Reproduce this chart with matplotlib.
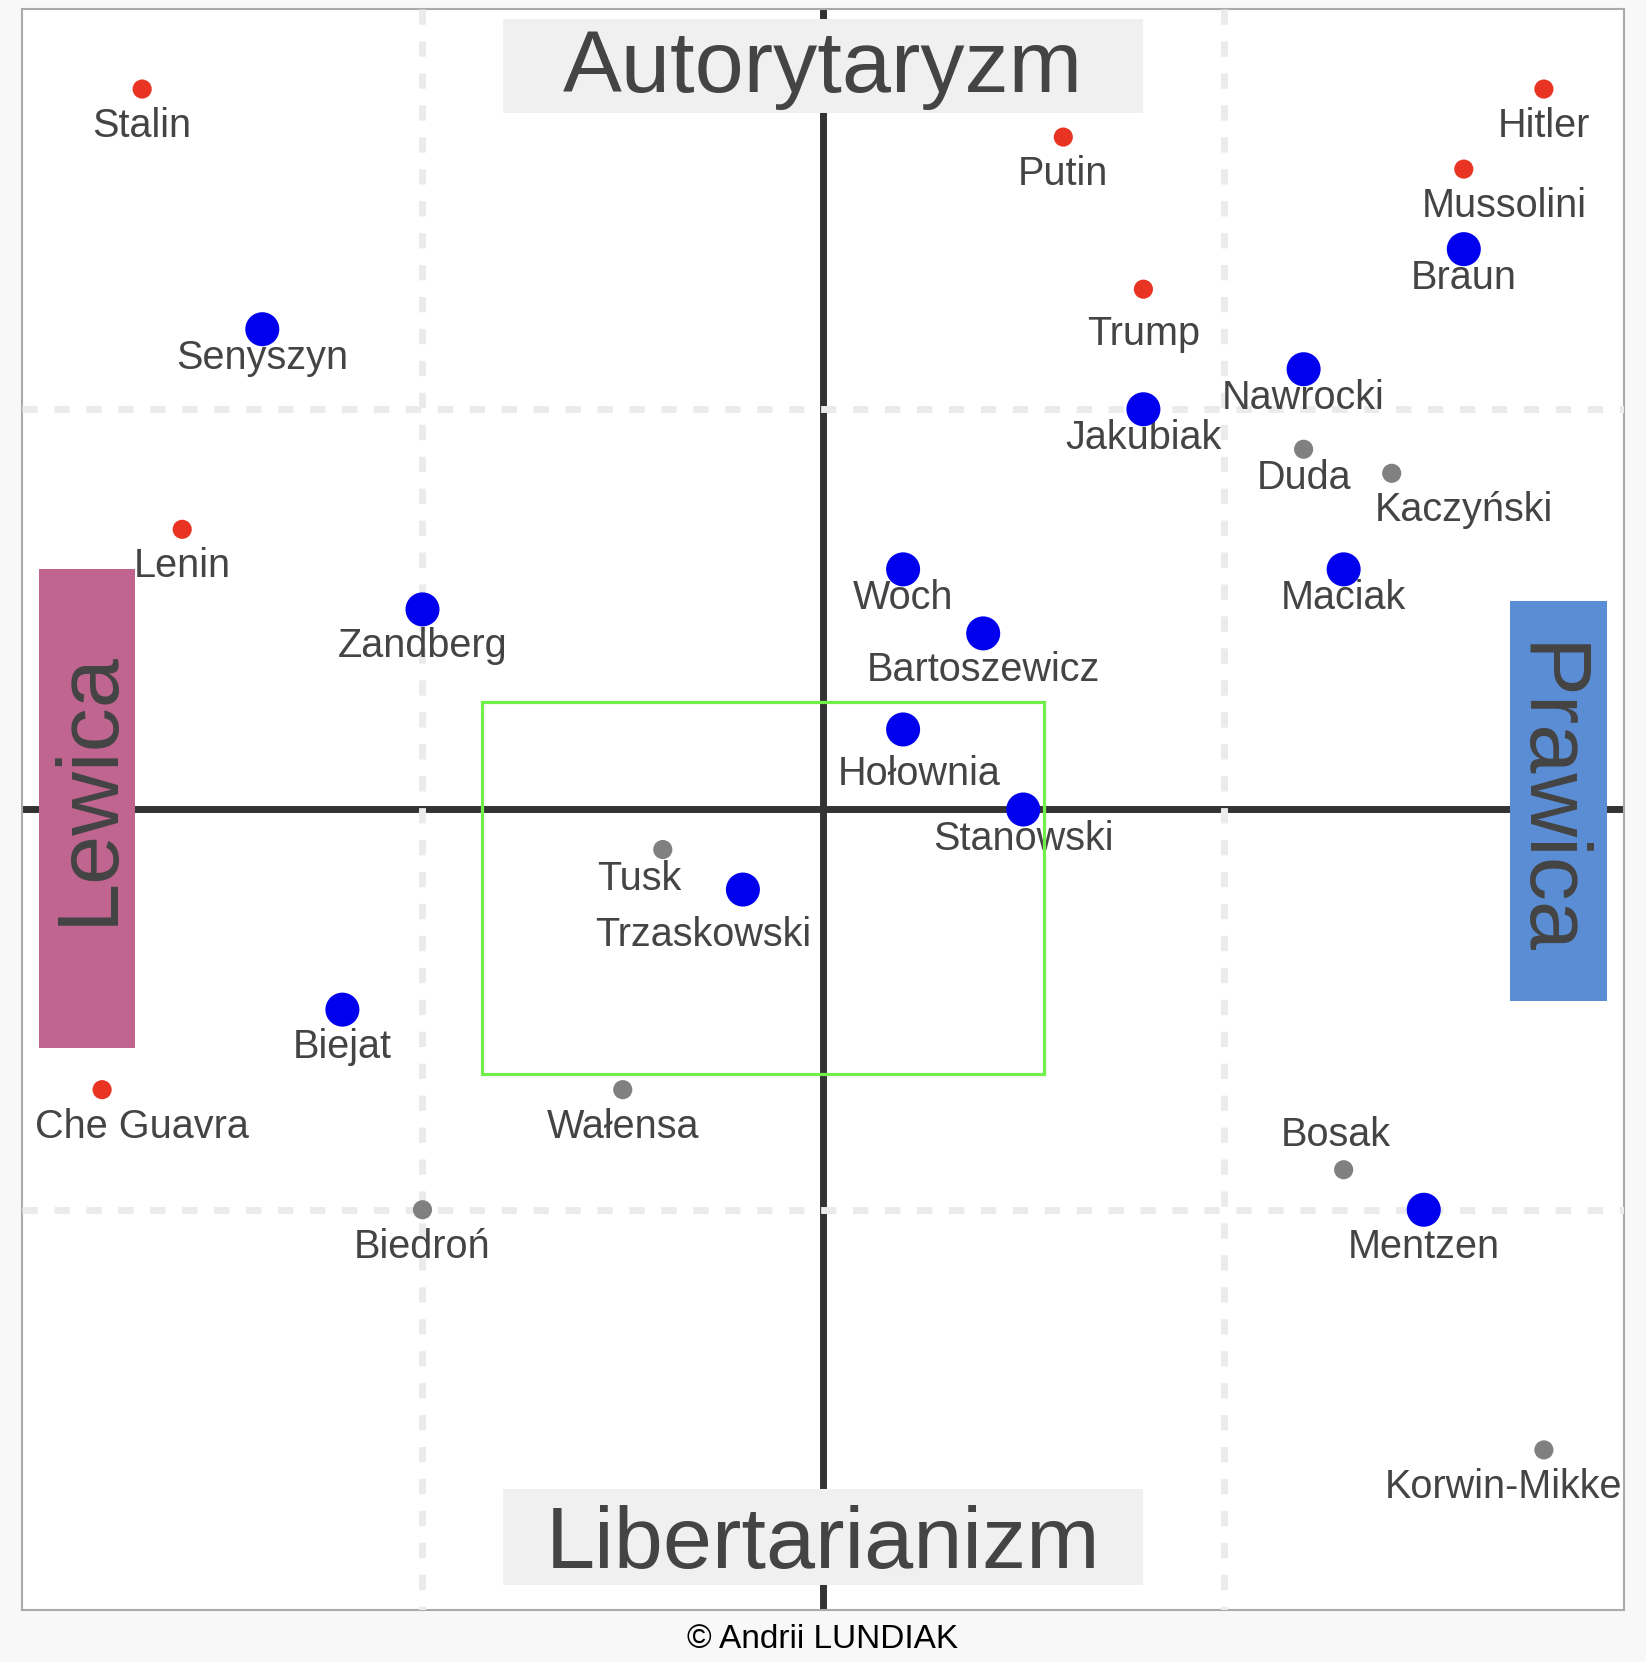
import matplotlib
matplotlib.use("Agg")
import matplotlib.pyplot as plt
from matplotlib.patches import Rectangle

# ---------------- data ----------------
names = ["Stalin", "Hitler", "Putin", "Mussolini", "Braun", "Trump", "Senyszyn",
         "Nawrocki", "Jakubiak", "Duda", "Kaczyński", "Lenin", "Woch", "Maciak",
         "Zandberg", "Bartoszewicz", "Hołownia", "Stanowski", "Tusk", "Trzaskowski",
         "Biejat", "Che Guavra", "Wałensa", "Bosak", "Mentzen", "Biedroń", "Korwin-Mikke"]
x_vals = [-8.5, 9.0, 3.0, 8.0, 8.0, 4.0, -7.0,
          6.0, 4.0, 6.0, 7.1, -8.0, 1.0, 6.5,
          -5.0, 2.0, 1.0, 2.5, -2.0, -1.0,
          -6.0, -9.0, -2.5, 6.5, 7.5, -5.0, 9.0]
y_vals = [9.0, 9.0, 8.4, 8.0, 7.0, 6.5, 6.0,
          5.5, 5.0, 4.5, 4.2, 3.5, 3.0, 3.0,
          2.5, 2.2, 1.0, 0.0, -0.5, -1.0,
          -2.5, -3.5, -3.5, -4.5, -5.0, -5.0, -8.0]
groups = ["hist", "hist", "hist", "hist", "cand", "hist", "cand",
          "cand", "cand", "other", "other", "hist", "cand", "cand",
          "cand", "cand", "cand", "cand", "other", "cand",
          "cand", "hist", "other", "other", "cand", "other", "other"]
# label offsets (data units) relative to each point
label_dx = [0, 0, 0, 0.5, 0, 0, 0,
            0, 0, 0, 0.9, 0, 0, 0,
            0, 0, 0.2, 0, -0.3, -0.5,
            0, 0.5, 0, -0.1, 0, 0, -0.5]
label_dy = [-0.6, -0.6, -0.6, -0.6, -0.5, -0.7, -0.5,
            -0.5, -0.5, -0.5, -0.6, -0.6, -0.5, -0.5,
            -0.6, -0.6, -0.7, -0.5, -0.5, -0.7,
            -0.6, -0.6, -0.6, 0.3, -0.6, -0.6, -0.6]

axis_titles = {"top": "Autorytaryzm", "bottom": "Libertarianizm",
               "left": "Lewica", "right": "Prawica"}
credit = "© Andrii LUNDIAK"
grid_positions = [-5, 5]
highlight_box = (-4.26, -3.31, 2.76, 1.34)  # x0, y0, x1, y1

# ---------------- style ----------------
plt.rcParams['font.family'] = ['Liberation Sans', 'DejaVu Sans']
plt.rcParams['lines.scale_dashes'] = False
TEXT = "#444444"
BIG = 63.5
group_style = {
    "hist": dict(color="#e93323", s=190),
    "cand": dict(color="#0000ee", s=600),
    "other": dict(color="#808080", s=190),
}

W, H = 1646, 1662
fig = plt.figure(figsize=(W / 100, H / 100), dpi=100, facecolor="#f8f8f8")
ax = fig.add_axes([22 / W, 1 - 1610 / H, 1602 / W, 1601 / H])
ax.set_facecolor("white")
ax.set_xlim(-10, 10)
ax.set_ylim(-10, 10)
ax.set_xticks([])
ax.set_yticks([])
for sp in ax.spines.values():
    sp.set_color("#aaaaaa")
    sp.set_linewidth(1.5)

# axis lines
ax.plot([-10, 10], [0, 0], color="#333333", lw=5, zorder=2, solid_capstyle="butt")
ax.plot([0, 0], [-10, 10], color="#333333", lw=5, zorder=2, solid_capstyle="butt")

# dashed grid lines (drawn above axes lines)
dash = (0, (11.0, 12.0))
for g in grid_positions:
    ax.plot([g, g], [10, -10], color="#ebebeb", lw=5, ls=dash, zorder=3,
            dash_capstyle="butt")
    ax.plot([-10, 10], [g, g], color="#ebebeb", lw=5, ls=dash, zorder=3,
            dash_capstyle="butt")

# labels
for n, x, y, dx, dy in zip(names, x_vals, y_vals, label_dx, label_dy):
    ax.text(x + dx, y + dy, n, ha="center", va="baseline", fontsize=28.5,
            color=TEXT, zorder=4)

# points
for grp, st in group_style.items():
    xs = [x for x, g in zip(x_vals, groups) if g == grp]
    ys = [y for y, g in zip(y_vals, groups) if g == grp]
    ax.scatter(xs, ys, s=st["s"], color=st["color"], edgecolors="none", zorder=5)

# highlight rectangle
x0, y0, x1, y1 = highlight_box
ax.add_patch(Rectangle((x0, y0), x1 - x0, y1 - y0, fill=False,
                       edgecolor="#72f04a", lw=2.3, zorder=6))

# axis title boxes
ax.add_patch(Rectangle((-4.0, 8.70), 8.0, 1.175, facecolor="#f0f0f0",
                       edgecolor="none", zorder=7))
ax.text(0, 8.96, axis_titles["top"], ha="center", va="baseline", fontsize=BIG,
        color=TEXT, zorder=8)
ax.add_patch(Rectangle((-4.0, -9.69), 8.0, 1.2, facecolor="#f0f0f0",
                       edgecolor="none", zorder=7))
ax.text(0, -9.48, axis_titles["bottom"], ha="center", va="baseline", fontsize=BIG,
        color=TEXT, zorder=8)
ax.add_patch(Rectangle((-9.79, -2.98), 1.2, 5.98, facecolor="#c06490",
                       edgecolor="none", zorder=7))
ax.text(-8.88, 0.28, axis_titles["left"], ha="center", va="baseline", rotation=90,
        rotation_mode="anchor", fontsize=BIG, color=TEXT, zorder=8)
ax.add_patch(Rectangle((8.58, -2.39), 1.21, 4.99, facecolor="#5b8dd5",
                       edgecolor="none", zorder=7))
ax.text(8.73, 0.12, axis_titles["right"], ha="center", va="baseline", rotation=-90,
        rotation_mode="anchor", fontsize=BIG, color=TEXT, zorder=8)

# credit
fig.text(823 / W, 1 - 1648 / H, credit, ha="center", va="baseline", fontsize=24,
         color="black", family=["Liberation Sans Narrow", "Liberation Sans", "DejaVu Sans"])

fig.savefig("out.png", dpi=100, facecolor=fig.get_facecolor())
